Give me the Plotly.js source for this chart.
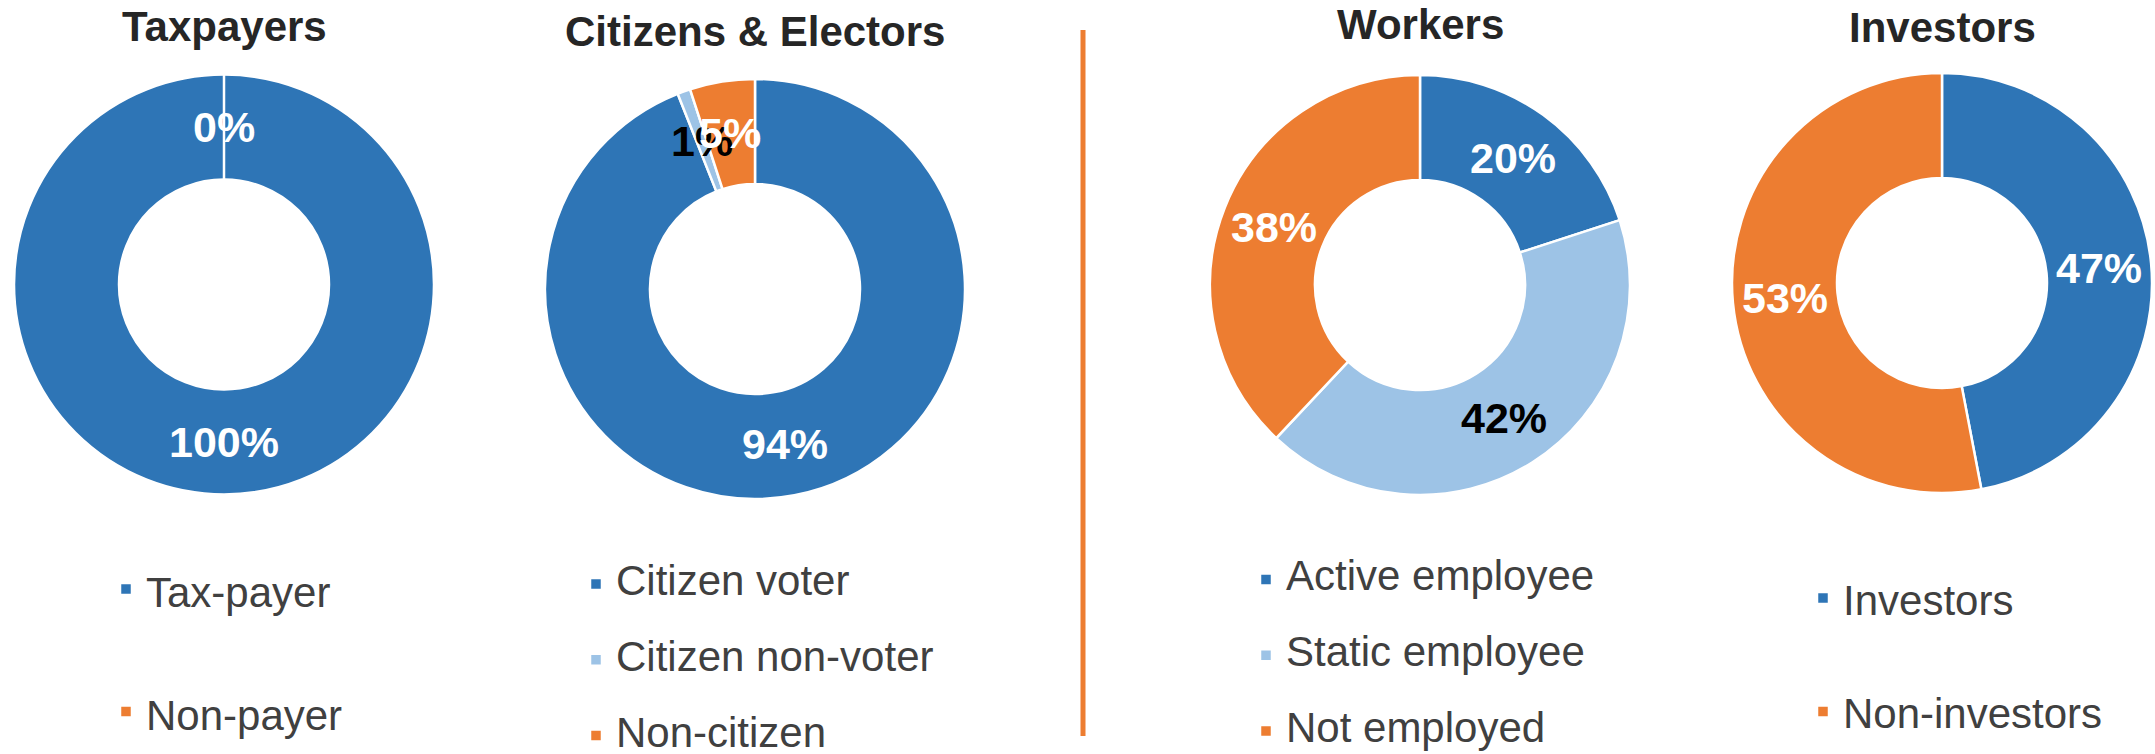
<!DOCTYPE html>
<html>
<head>
<meta charset="utf-8">
<script src="https://cdn.plot.ly/plotly-3.0.1.min.js"></script>
<style>html,body{margin:0;padding:0;background:#fff}</style>
</head>
<body>
<div id="chart" style="width:2155px;height:754px"></div>
<script>
const chartTitles = ['Taxpayers', 'Citizens & Electors', 'Workers', 'Investors'];
const taxLabels = ['Tax-payer', 'Non-payer'];
const taxValues = [100, 0];
const citizenLabels = ['Citizen voter', 'Citizen non-voter', 'Non-citizen'];
const citizenValues = [94, 1, 5];
const workerLabels = ['Active employee', 'Static employee', 'Not employed'];
const workerValues = [20, 42, 38];
const investorLabels = ['Investors', 'Non-investors'];
const investorValues = [47, 53];

const W = 2155, H = 754;
const BLUE = '#2E75B6', LIGHT = '#9DC3E6', ORANGE = '#ED7D31';
const FONT = '"Liberation Sans", Arial, sans-serif';
const R = 210;      // donut radius in px
const HOLE = 0.5;

// layout of each donut (px): centre, title row, legend marker column / first row
const charts = [
  { labels: taxLabels, values: taxValues, colors: [BLUE, ORANGE], textColors: ['#fff', '#fff'],
    cx: 224, cy: 284.5, titleY: 26.5, legX: 126, legY: 589, legFont: 46 },
  { labels: citizenLabels, values: citizenValues, colors: [BLUE, LIGHT, ORANGE], textColors: ['#fff', '#000', '#fff'],
    cx: 755, cy: 289, titleY: 31, legX: 596, legY: 584, legFont: 28 },
  { labels: workerLabels, values: workerValues, colors: [BLUE, LIGHT, ORANGE], textColors: ['#fff', '#000', '#fff'],
    cx: 1420, cy: 285, titleY: 24, legX: 1266, legY: 579.5, legFont: 28 },
  { labels: investorLabels, values: investorValues, colors: [BLUE, ORANGE], textColors: ['#fff', '#fff'],
    cx: 1942, cy: 283, titleY: 27.5, legX: 1823, legY: 598, legFont: 42.5 }
];

const legendIds = ['legend', 'legend2', 'legend3', 'legend4'];

const traces = charts.map((c, k) => ({
  type: 'pie',
  labels: c.labels.map(l => '&nbsp;<br><span style="font-size:42px">' + l + '</span>'),
  values: c.values,
  hole: HOLE,
  sort: false,
  direction: 'clockwise',
  rotation: 0,
  textinfo: 'none',
  hoverinfo: 'percent',
  marker: { colors: c.colors, line: { color: '#ffffff', width: 2.5 } },
  domain: {
    x: [(c.cx - R) / W, (c.cx + R) / W],
    y: [1 - (c.cy + R) / H, 1 - (c.cy - R) / H]
  },
  legend: legendIds[k]
}));

const annotations = [];
charts.forEach((c, k) => {
  annotations.push({
    xref: 'paper', yref: 'paper', x: c.cx / W, y: 1 - c.titleY / H,
    xanchor: 'center', yanchor: 'middle', showarrow: false,
    text: '<b>' + chartTitles[k] + '</b>',
    font: { family: FONT, size: 42, color: '#262626' }
  });
  // excel style data labels: middle of the ring at each slice's mid angle
  const total = c.values.reduce((a, b) => a + b, 0);
  const rm = R * (1 + HOLE) / 2;
  let cum = 0;
  c.values.forEach((v, i) => {
    const a = 2 * Math.PI * (cum + v / 2) / total;
    cum += v;
    annotations.push({
      xref: 'paper', yref: 'paper',
      x: (c.cx + rm * Math.sin(a)) / W,
      y: 1 - (c.cy - rm * Math.cos(a)) / H,
      xanchor: 'center', yanchor: 'middle', showarrow: false,
      text: '<b>' + v + '%</b>',
      font: { family: FONT, size: 43, color: c.textColors[i] }
    });
  });
});

const layout = {
  width: W,
  height: H,
  margin: { l: 0, r: 0, t: 0, b: 0, autoexpand: false },
  paper_bgcolor: '#ffffff',
  plot_bgcolor: '#ffffff',
  showlegend: true,
  annotations: annotations,
  shapes: [{
    type: 'line', xref: 'paper', yref: 'paper',
    x0: 1083 / W, x1: 1083 / W, y0: 1 - 30 / H, y1: 1 - 736 / H,
    line: { color: ORANGE, width: 5 }
  }]
};

charts.forEach((c, k) => {
  const L = c.legFont * 1.3;
  const top = c.legY - 5 - 1.5 * L - 1.5;
  layout[legendIds[k]] = {
    x: (c.legX - 20) / W, xanchor: 'left',
    y: 1 - top / H, yanchor: 'top',
    valign: 'bottom',
    bgcolor: 'rgba(0,0,0,0)',
    borderwidth: 0,
    font: { family: FONT, size: c.legFont, color: '#404040' }
  };
});

Plotly.newPlot('chart', traces, layout, { displayModeBar: false, staticPlot: true });
</script>
</body>
</html>
